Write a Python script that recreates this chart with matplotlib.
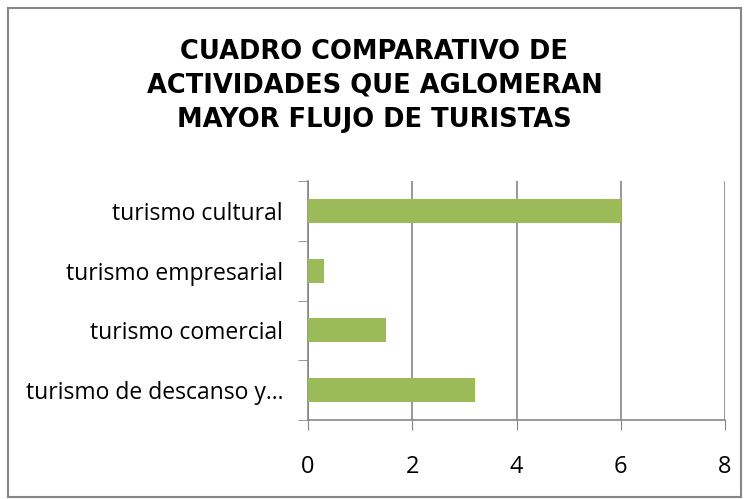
import matplotlib.pyplot as plt
import matplotlib.patches as patches
import numpy as np

categories = ['turismo cultural', 'turismo empresarial', 'turismo comercial', 'turismo de descanso y…']
values = [6, 0.3, 1.5, 3.2]
xticks = [0, 2, 4, 6, 8]

BAR_COLOR = '#9bbb59'
GRID_COLOR = '#868686'

fig = plt.figure(figsize=(7.49, 4.99), dpi=100)
ax = fig.add_axes([308/749, 1 - 420/499, (725 - 308)/749, (420 - 181)/499])

y = np.arange(len(categories))[::-1]
ax.barh(y, values, height=0.4, color=BAR_COLOR, zorder=3)

ax.set_xlim(0, 8)
ax.set_ylim(-0.5, len(categories) - 0.5)
ax.set_xticks(xticks)
ax.set_xticklabels([str(t) for t in xticks], fontsize=17, family='Open Sans')
ax.set_yticks(y)
ax.set_yticklabels(categories, fontsize=16.5, family='Open Sans')
ax.tick_params(axis='y', length=0, pad=18)
ax.set_yticks(np.arange(-0.5, len(categories)), minor=True)
ax.tick_params(axis='y', which='minor', length=7, color=GRID_COLOR, direction='out')
ax.tick_params(axis='x', length=7, color=GRID_COLOR, direction='out', pad=18)

ax.grid(axis='x', color=GRID_COLOR, linewidth=1.2, zorder=0)
for s in ['top', 'right']:
    ax.spines[s].set_visible(False)
for s in ['left', 'bottom']:
    ax.spines[s].set_color(GRID_COLOR)
    ax.spines[s].set_linewidth(1.2)

fig.text(0.5, 1 - 86/499, 'CUADRO COMPARATIVO DE\nACTIVIDADES QUE AGLOMERAN\nMAYOR FLUJO DE TURISTAS',
         ha='center', va='center', fontsize=18.5, fontweight='bold', family='DejaVu Sans',
         linespacing=1.38)

# outer chart border
fig.patches.append(patches.Rectangle((8/749, 2/499), (741 - 8)/749, (491 - 2)/499,
                                     transform=fig.transFigure, fill=False,
                                     edgecolor='#868686', linewidth=1.5))

fig.savefig('out.png', dpi=100)
